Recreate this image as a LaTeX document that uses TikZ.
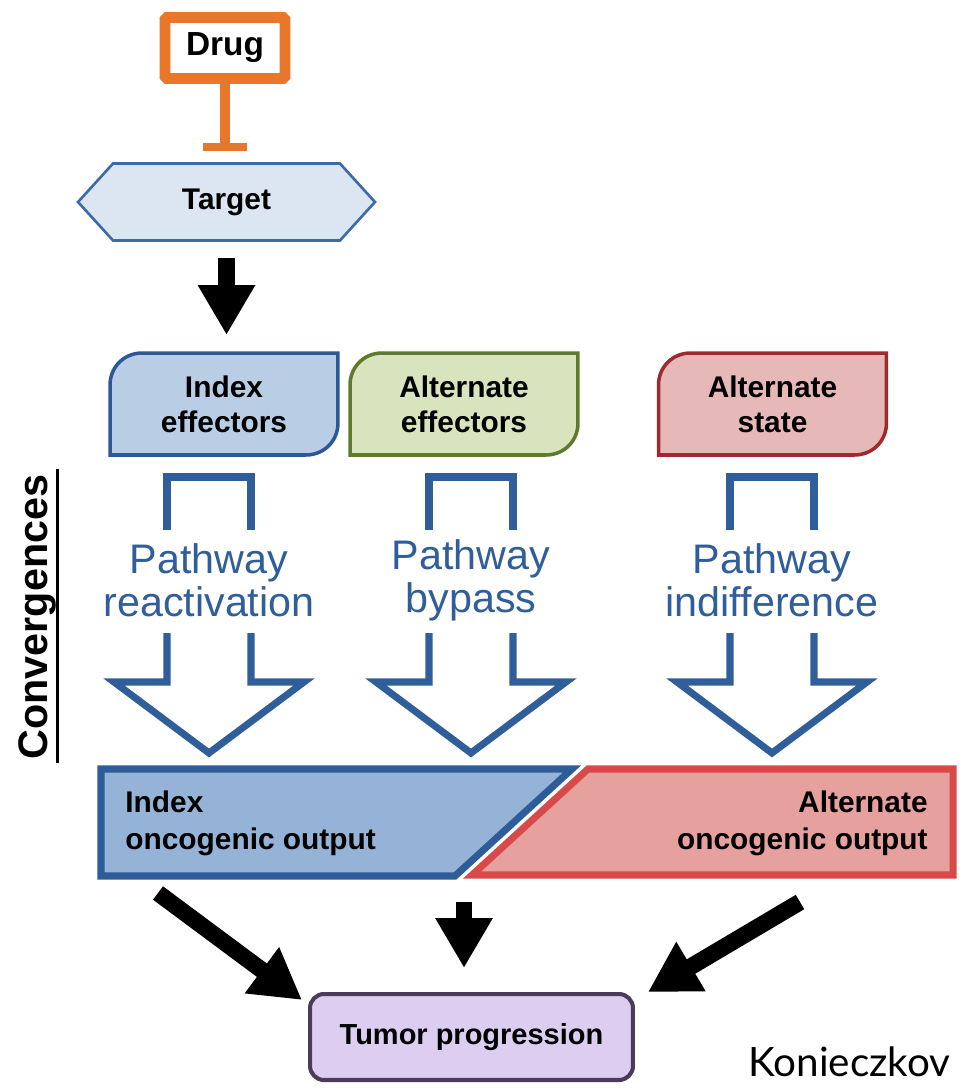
\documentclass[tikz,border=0pt]{standalone}
\usepackage{fontspec}
\setmainfont{Liberation Sans}
\newfontfamily\citefont{Lato}
\usetikzlibrary{arrows.meta, positioning, calc, backgrounds}

\definecolor{drugorange}{HTML}{E8772A}
\definecolor{targetfill}{HTML}{DCE6F2}
\definecolor{targetline}{HTML}{3C6CA8}
\definecolor{fillidx}{HTML}{B9CDE5}
\definecolor{lineidx}{HTML}{2C5896}
\definecolor{fillalt}{HTML}{D7E4BD}
\definecolor{linealt}{HTML}{5E7A2B}
\definecolor{fillst}{HTML}{E6B9B8}
\definecolor{linest}{HTML}{9E2A2F}
\definecolor{pathblue}{HTML}{2F5E9B}
\definecolor{bandblue}{HTML}{95B3D7}
\definecolor{bandblueline}{HTML}{2E5C99}
\definecolor{bandred}{HTML}{E6A19F}
\definecolor{bandredline}{HTML}{D9494A}
\definecolor{tumorfill}{HTML}{DDCDF0}
\definecolor{tumorline}{HTML}{4A3C5A}

\begin{document}
\begin{tikzpicture}[x=0.02cm, y=-0.02cm,
  drugbox/.style={rectangle, draw=drugorange, line width=6pt, fill=white,
                  minimum width=2.4cm, minimum height=1.22cm, rounded corners=1pt,
                  font=\bfseries\fontsize{19}{22}\selectfont},
  inhib/.style={draw=drugorange, line width=6pt, -{Bar[width=0.9cm, line width=4pt]}},
  hexnode/.style={minimum width=5.94cm, minimum height=1.54cm, inner sep=0pt, outer sep=0pt,
                  font=\bfseries\fontsize{17}{20}\selectfont},
  effbox/.style={minimum width=4.56cm, minimum height=2.04cm, inner sep=0pt, outer sep=0pt,
                 align=center, font=\bfseries\fontsize{17}{20}\selectfont},
  effline/.style={line width=2pt},
  pathtext/.style={align=center, inner sep=0pt, text=pathblue,
                   font=\fontsize{23.5}{24.5}\selectfont},
  hollow/.style={draw=pathblue, line width=4pt},
  outtext/.style={inner sep=0pt, font=\bfseries\fontsize{17}{21}\selectfont},
  tumorbox/.style={rectangle, rounded corners=0.28cm, draw=tumorline, fill=tumorfill,
                   line width=2.3pt, minimum width=6.46cm, minimum height=1.72cm,
                   font=\bfseries\fontsize{16.5}{20}\selectfont},
  blkarr/.style={-{Triangle[width=1.08cm, length=1cm]}, line width=9.5pt},
]
\useasboundingbox (0,0) rectangle (968,1088);

%% -- Drug and target ------------------------------------------------
\node[drugbox] (drug)   at (225,48)    {Drug};
\node[hexnode] (target) at (226.5,202) {Target};
\draw[inhib, shorten >=0.26cm] (drug.south) -- (drug.south |- target.north);

%% -- Effectors -------------------------------------------------------
\node[effbox] (idxeff) at (224,404)   {Index\\effectors};
\node[effbox] (alteff) at (464,404)   {Alternate\\effectors};
\node[effbox] (altst)  at (772.5,404) {Alternate\\state};

\draw[blkarr, shorten <=0.35cm, shorten >=0.36cm]
    (target.south) -- (target.south |- idxeff.north);

%% -- Convergences ----------------------------------------------------
\node[rotate=90, inner sep=0pt, font=\bfseries\fontsize{23.5}{26}\selectfont]
     (conv) at (37,617) {Convergences};
\draw[line width=1.6pt] ($(conv.south west)+(1,3)$) -- ($(conv.south east)+(1,-5)$);

\foreach \cx/\nm/\txt in {209/reac/{Pathway\\reactivation},
                          471/byp/{Pathway\\bypass},
                          772/indif/{Pathway\\indifference}} {
  \node[pathtext] (\nm) at (\cx,580) {\txt};
  \draw[hollow] (\cx-42,530) -- (\cx-42,477) -- (\cx+42,477) -- (\cx+42,530);
  \draw[hollow] (\cx-42,633) -- (\cx-42,682) -- (\cx-95,682) -- (\cx,753)
                -- (\cx+95,682) -- (\cx+42,682) -- (\cx+42,633);
}

%% -- Oncogenic output ------------------------------------------------
\node[outtext, anchor=west, align=left]  (idxout) at (125,823) {Index\\oncogenic output};
\node[outtext, anchor=east, align=right] (altout) at (928,823) {Alternate\\oncogenic output};

%% -- Tumor progression -----------------------------------------------
\node[tumorbox] (tumor) at (471.5,1037) {Tumor progression};

\coordinate (lftail)  at (158,893);
\coordinate (midtail) at (464,902);
\coordinate (rgttail) at (800,902);
\draw[blkarr] (lftail) -- ([shift={(-6,8)}]tumor.north west);
\draw[blkarr, shorten >=0.48cm] (midtail) -- (midtail |- tumor.north);
\draw[blkarr] (rgttail) -- ([shift={(13,0)}]tumor.north east);

\node[font=\citefont\fontsize{23}{26}\selectfont, anchor=base west, inner sep=0pt]
     (cite) at (748,1076) {Konieczkov};

%% -- Shapes behind the texts -----------------------------------------
\begin{scope}[on background layer]
  \filldraw[fill=targetfill, draw=targetline, line width=1.5pt]
    (target.west) -- ($(target.north west)+(35,0)$) -- ($(target.north east)+(-35,0)$)
    -- (target.east) -- ($(target.south east)+(-35,0)$) -- ($(target.south west)+(35,0)$)
    -- cycle;
  \foreach \n/\c in {idxeff/idx, alteff/alt, altst/st} {
    \filldraw[effline, fill=fill\c, draw=line\c]
      (\n.south west) -- ($(\n.north west)+(0,32)$)
      .. controls ($(\n.north west)+(0,14)$) and ($(\n.north west)+(14,0)$)
      .. ($(\n.north west)+(32,0)$)
      -- (\n.north east) -- ($(\n.south east)+(0,-32)$)
      .. controls ($(\n.south east)+(0,-14)$) and ($(\n.south east)+(-14,0)$)
      .. ($(\n.south east)+(-32,0)$) -- cycle;
  }
  \filldraw[fill=bandblue, draw=bandblueline, line width=4pt]
    (101,769) -- (572,769) -- (455,876) -- (101,876) -- cycle;
  \filldraw[fill=bandred, draw=bandredline, line width=4pt]
    (588,769) -- (953,769) -- (953,875) -- (472,875) -- cycle;
\end{scope}

\end{tikzpicture}
\end{document}
